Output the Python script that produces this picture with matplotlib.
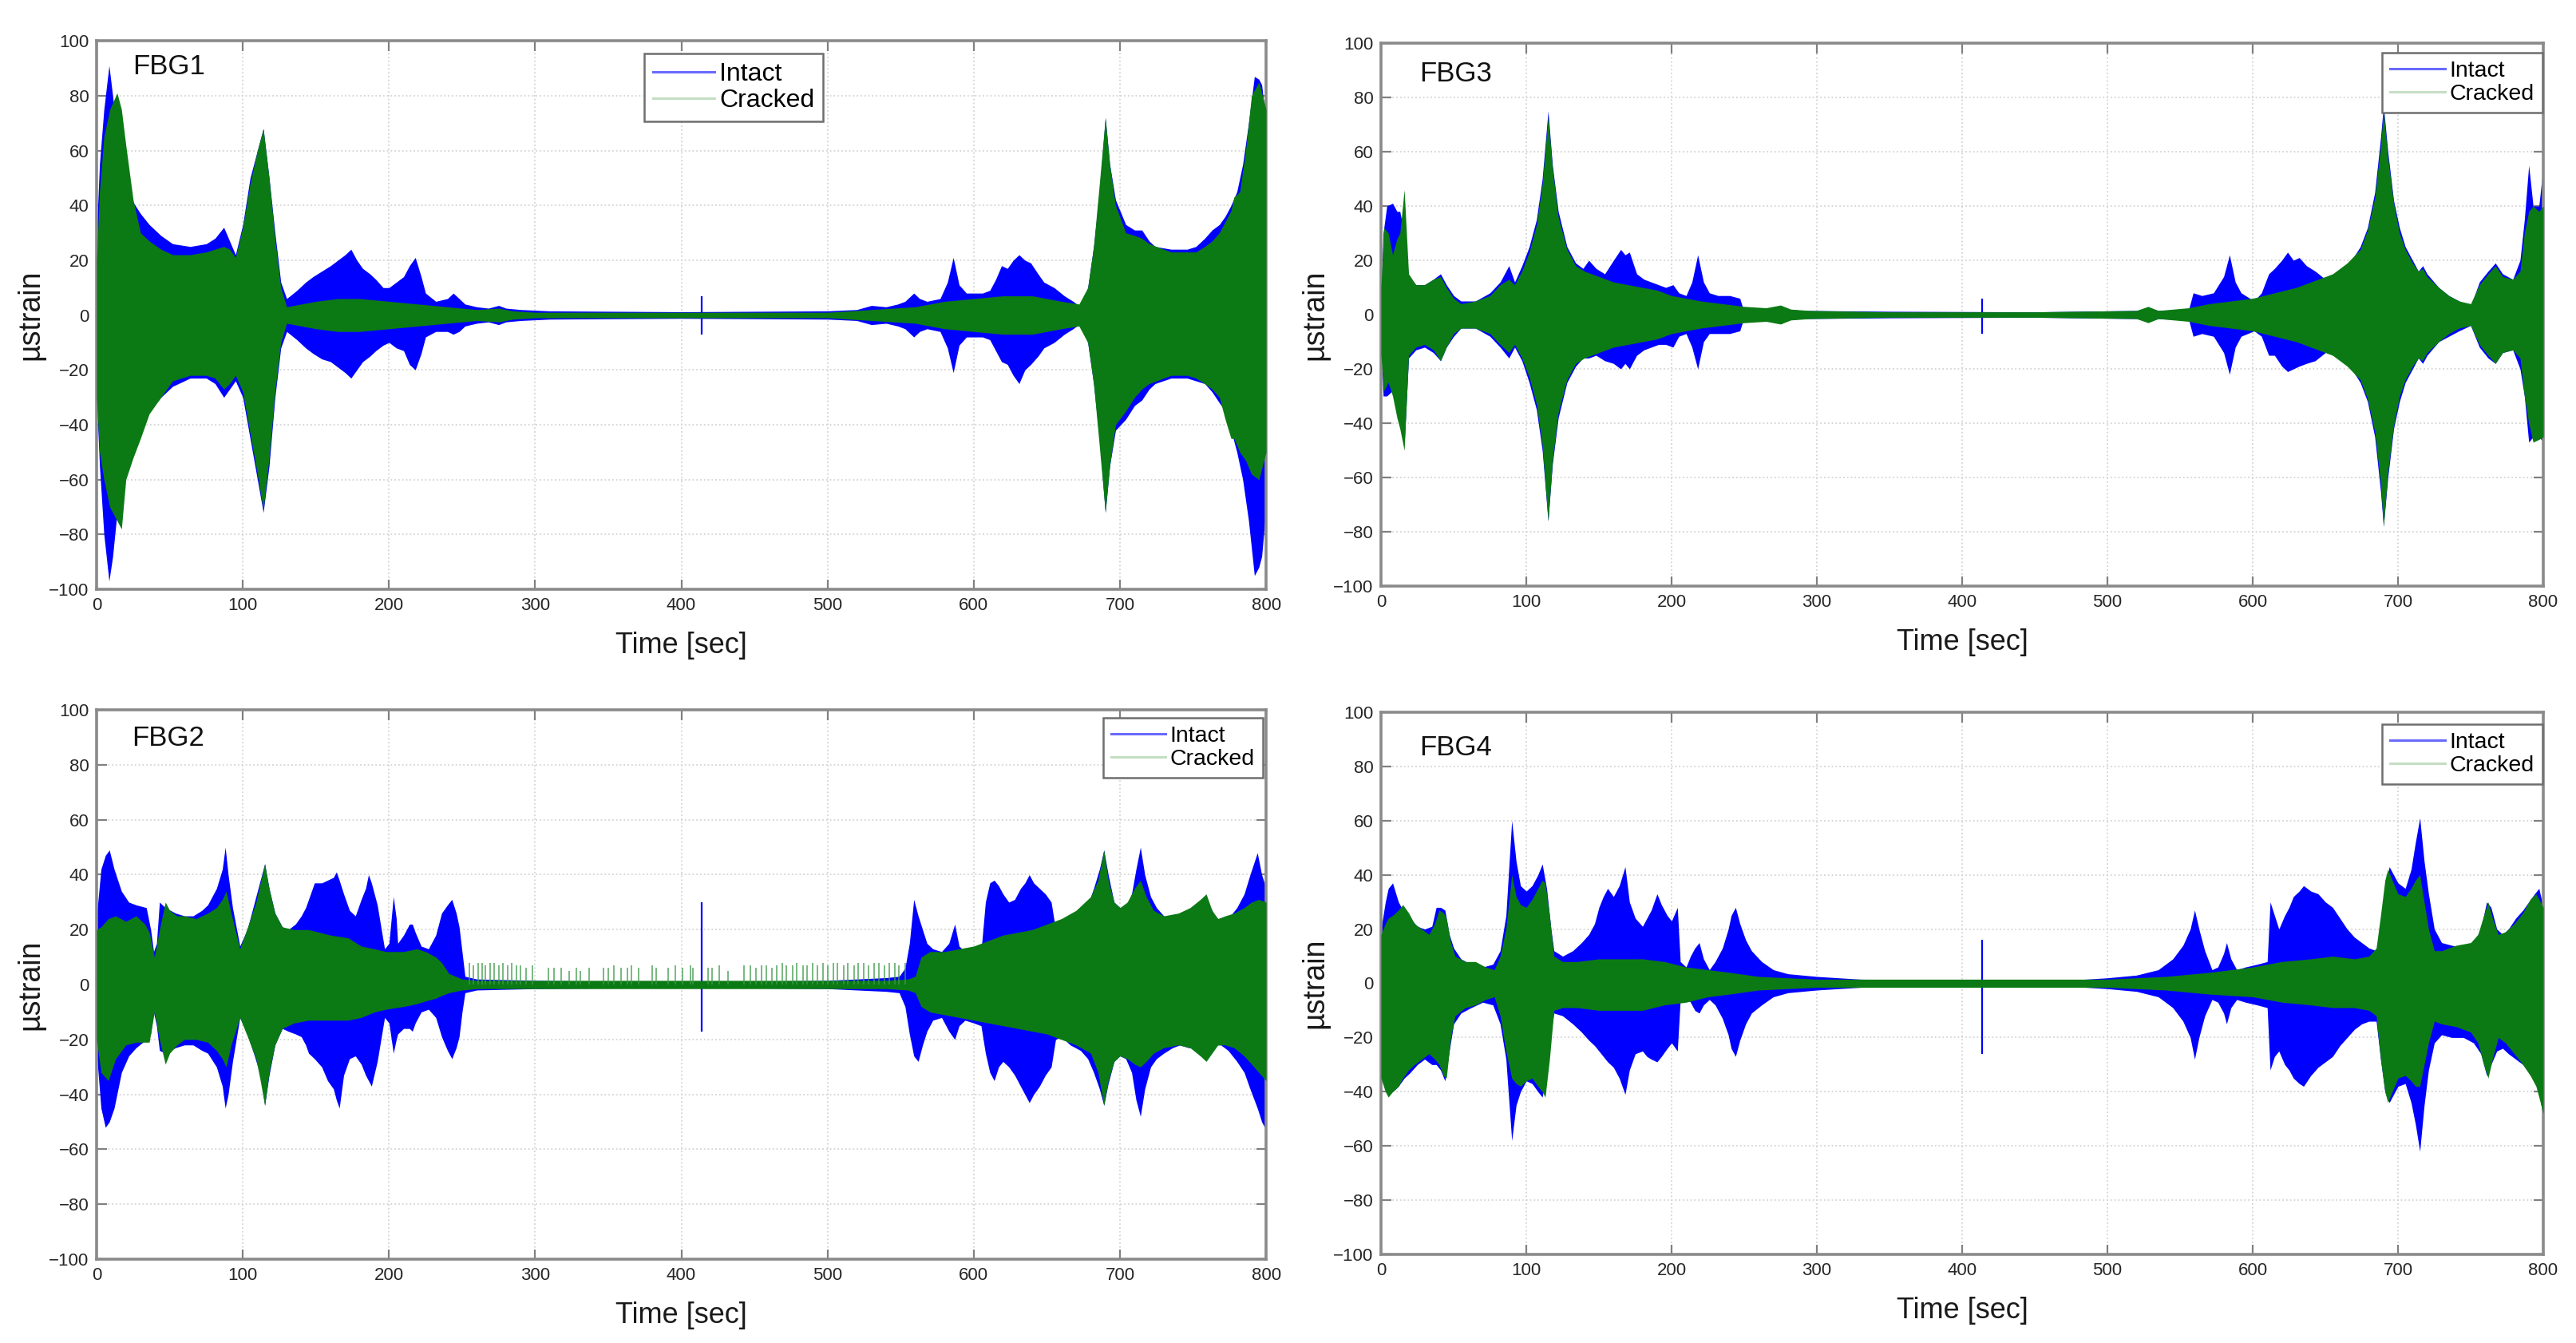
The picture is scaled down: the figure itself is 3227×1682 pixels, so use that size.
import numpy as np
import matplotlib
matplotlib.use("Agg")
import matplotlib.pyplot as plt
from matplotlib.lines import Line2D

plt.rcParams['font.family'] = ['Liberation Sans', 'DejaVu Sans']

# ---------------- envelope data (µstrain vs time [s]) ----------------
# FBG1 (top left)
fbg1_int_t = [0, 2, 5, 8.5, 11, 14, 19, 24, 30, 36, 44, 52, 64, 75, 81, 87, 91, 95, 100, 105, 110, 114, 118, 122, 126, 130,
              137, 143, 148, 154, 160, 165, 170, 174, 178, 182, 187, 191, 196, 200, 205, 210, 214, 218, 222, 225, 232, 240,
              244, 248, 252, 260, 268, 275, 280, 290, 310, 400, 500, 520, 530, 540, 548, 553, 559, 563, 568, 577, 582, 586,
              590, 595, 600, 606, 611, 615, 619, 623, 627, 631, 635, 639, 644, 648, 655, 662, 668, 673, 678, 682, 686, 690,
              693, 697, 704, 710, 715, 720, 724, 735, 746, 752, 758, 763, 768, 772, 776, 780, 784, 788, 792, 795, 797, 800]
fbg1_int_up = [30, 55, 75, 91, 80, 65, 55, 42, 37, 33, 29, 26, 25, 26, 28, 32, 27, 22, 33, 50, 60, 68, 50, 30, 12, 6,
               9, 12, 14, 16, 18, 20, 22, 24, 20, 17, 15, 13, 10, 10, 12, 14, 18, 21, 14, 8, 5, 6,
               8, 6, 4, 3, 2.5, 3.5, 2.5, 2, 1.5, 1.2, 1.5, 2, 3.5, 3, 4, 5, 8, 6, 5, 6, 12, 21,
               11, 8, 8, 8, 9, 13, 18, 17, 20, 22, 20, 19, 15, 12, 10, 7, 5, 3, 10, 25, 45, 72,
               55, 42, 33, 31, 31, 27, 25, 24, 24, 25, 28, 31, 33, 36, 40, 45, 55, 70, 87, 86, 84, 70]
fbg1_int_lo = [-30, -55, -80, -97, -88, -72, -60, -47, -40, -35, -30, -26, -23, -23, -25, -30, -27, -24, -30, -45, -60, -72, -55, -30, -12, -6,
               -9, -12, -14, -16, -17, -19, -21, -23, -20, -17, -15, -13, -11, -10, -12, -13, -18, -20, -14, -8, -6, -6,
               -7, -6, -4, -3, -2.5, -3.5, -2.5, -2, -1.5, -1.2, -1.5, -2, -3.5, -3, -4, -5, -8, -6, -5, -6, -12, -21,
               -11, -8, -8, -8, -9, -13, -17, -18, -22, -25, -20, -18, -15, -12, -10, -7, -5, -3, -10, -25, -45, -72,
               -55, -42, -38, -33, -31, -27, -25, -23, -23, -24, -25, -28, -32, -35, -42, -50, -60, -75, -95, -92, -88, -70]

fbg1_crk_t = [0, 2, 5, 9, 14, 17, 20, 25, 30, 36, 44, 52, 64, 75, 81, 87, 91, 95, 100, 105, 110, 114, 118, 122, 126, 130,
              140, 150, 165, 180, 200, 220, 240, 260, 275, 285, 300, 500, 530, 560, 580, 600, 620, 640, 660, 672, 678, 682,
              686, 690, 693, 697, 704, 710, 715, 720, 735, 746, 752, 758, 763, 768, 772, 776, 778, 782, 786, 790, 795, 800]
fbg1_crk_up = [20, 45, 65, 75, 81, 75, 62, 42, 30, 27, 24, 22, 22, 23, 24, 25, 24, 21, 32, 48, 60, 68, 50, 28, 10, 3,
               4, 5, 6, 6, 5, 4, 3, 2, 2.5, 1.5, 1, 1, 2, 3, 5, 6, 7, 7, 5, 4, 10, 25,
               48, 72, 55, 40, 30, 29, 28, 26, 23, 23, 23, 25, 27, 30, 34, 38, 43, 45, 60, 80, 85, 75]
fbg1_crk_lo = [-30, -50, -60, -70, -75, -78, -60, -52, -45, -36, -30, -24, -22, -22, -23, -27, -25, -22, -28, -43, -58, -71, -52, -28, -10, -3,
               -4, -5, -6, -6, -5, -4, -3, -2, -2.5, -1.5, -1, -1, -2, -3, -5, -6, -7, -7, -5, -4, -10, -25,
               -48, -72, -55, -40, -35, -30, -27, -25, -22, -22, -23, -25, -27, -30, -38, -45, -45, -50, -53, -58, -60, -50]

# FBG3 (top right)
fbg3_int_t = [0, 1.5, 4, 8, 11, 13, 16, 19, 24, 30, 36, 41, 45, 50, 55, 65, 75, 82, 88, 92, 97, 102, 107, 111, 115, 118,
              122, 128, 134, 139, 143, 148, 154, 160, 165, 168, 171, 176, 181, 186, 191, 196, 201, 205, 210, 214, 218, 222,
              226, 232, 240, 247, 249, 260, 270, 275, 280, 290, 350, 450, 520, 528, 535, 556, 559, 565, 573, 580, 584, 588,
              592, 601, 606, 611, 615, 620, 624, 628, 632, 637, 643, 650, 655, 662, 668, 674, 679, 684, 688, 690, 693, 697,
              701, 705, 710, 714, 717, 720, 728, 735, 742, 750, 756, 762, 767, 772, 779, 784, 787, 790, 793, 797, 800]
fbg3_int_up = [5, 30, 40, 41, 38, 38, 30, 14, 11, 11, 13, 15, 11, 7, 5, 5, 8, 12, 18, 12, 18, 25, 35, 50, 75, 55,
               38, 25, 19, 17, 20, 17, 15, 20, 24, 22, 23, 15, 13, 12, 11, 10, 11, 8, 7, 12, 22, 12,
               8, 7, 7, 6, 2.5, 2, 2, 3, 2, 1.5, 1.2, 1, 1.5, 2.5, 1.5, 2, 8, 7, 8, 14, 22, 12,
               8, 5, 8, 15, 17, 20, 23, 20, 21, 18, 16, 13, 12, 15, 20, 25, 32, 45, 65, 77, 60, 42,
               32, 25, 20, 16, 18, 15, 10, 7, 5, 3, 12, 16, 19, 15, 13, 20, 35, 55, 40, 40, 55]
fbg3_int_lo = [-10, -30, -30, -28, -35, -40, -48, -16, -13, -12, -14, -17, -12, -8, -5, -5, -8, -12, -16, -12, -17, -25, -35, -50, -76, -55,
               -38, -25, -19, -16, -16, -15, -17, -18, -20, -18, -20, -15, -13, -12, -11, -11, -12, -8, -7, -12, -20, -10,
               -7, -7, -7, -6, -2.5, -2, -2, -3, -2, -1.5, -1.2, -1, -1.5, -2.5, -1.5, -2, -8, -7, -8, -14, -22, -12,
               -8, -6, -8, -15, -15, -19, -21, -20, -19, -18, -17, -14, -13, -15, -20, -25, -32, -45, -65, -78, -60, -42,
               -32, -25, -20, -16, -18, -15, -10, -8, -6, -4, -12, -16, -18, -14, -13, -20, -30, -47, -45, -45, -47]

fbg3_crk_t = [0, 2, 5, 8, 11, 13, 16, 19, 24, 30, 36, 41, 45, 50, 55, 65, 75, 82, 88, 92, 97, 102, 107, 111, 115, 118,
              122, 128, 134, 140, 150, 160, 170, 180, 190, 200, 210, 220, 235, 250, 265, 275, 282, 295, 350, 450, 520, 528,
              535, 556, 570, 585, 600, 615, 630, 645, 655, 665, 674, 679, 684, 688, 690, 693, 697, 701, 705, 710, 714, 717,
              720, 728, 735, 742, 750, 756, 762, 767, 772, 779, 784, 787, 790, 793, 797, 800]
fbg3_crk_up = [10, 32, 30, 22, 28, 30, 46, 15, 11, 11, 13, 14, 10, 6, 4, 5, 7, 11, 13, 11, 16, 23, 33, 48, 73, 54,
               36, 24, 18, 16, 14, 12, 11, 10, 9, 7, 6, 5, 4, 3, 2.5, 3.5, 2, 1.5, 1, 1, 1.5, 3,
               1.5, 2.5, 4, 5, 6, 8, 10, 13, 15, 19, 24, 31, 43, 62, 75, 58, 41, 30, 24, 19, 16, 17,
               14, 10, 7, 5, 4, 11, 15, 18, 14, 13, 16, 30, 38, 40, 38, 40]
fbg3_crk_lo = [-15, -28, -25, -30, -38, -42, -50, -15, -12, -11, -13, -17, -12, -7, -5, -5, -7, -11, -14, -11, -16, -23, -33, -48, -76, -54,
               -36, -24, -18, -16, -14, -12, -11, -10, -9, -7, -6, -5, -4, -3, -2.5, -3.5, -2, -1.5, -1, -1, -1.5, -3,
               -1.5, -2.5, -4, -5, -6, -8, -10, -13, -15, -19, -24, -31, -43, -62, -78, -58, -41, -30, -24, -19, -16, -17,
               -14, -10, -7, -5, -4, -11, -15, -18, -14, -13, -16, -30, -40, -47, -46, -45]

# FBG2 (bottom left)
fbg2_int_t = [0, 3, 6, 8.7, 12, 17, 22, 27, 34, 37, 39, 41, 43, 47, 54, 60, 66, 72, 76, 82, 86, 88, 90, 93, 98, 103,
              108, 112, 115, 118, 122, 127, 131, 136, 140, 143, 145, 149, 154, 158, 162, 164, 166, 169, 173, 177, 181, 184,
              186, 188, 192, 197, 200, 203, 205, 206, 210, 214, 216, 218, 222, 227, 232, 236, 240, 243, 246, 248, 250, 252,
              260, 300, 400, 500, 540, 549, 553, 556, 559, 562, 565, 568, 572, 578, 583, 587, 590, 594, 600, 605, 608, 611,
              614, 617, 620, 624, 628, 632, 635, 638, 641, 645, 649, 653, 656, 660, 666, 673, 678, 682, 686, 689, 692, 696,
              700, 704, 708, 711, 714, 717, 721, 725, 730, 736, 741, 747, 752, 756, 759, 762, 765, 769, 774, 780, 785, 789,
              794, 797, 800]
fbg2_int_up = [25, 42, 47, 49, 42, 34, 30, 29, 28, 20, 12, 15, 30, 28, 26, 25, 25, 27, 29, 35, 42, 50, 40, 28, 14, 20,
               30, 38, 44, 35, 26, 21, 20, 22, 25, 28, 31, 37, 37, 38, 39, 41, 38, 33, 27, 25, 31, 35,
               40, 37, 29, 13, 15, 32, 24, 15, 18, 22, 22, 19, 14, 13, 18, 26, 29, 31, 26, 21, 12, 3,
               2, 1.5, 1, 1.5, 2.5, 3, 6, 15, 31, 25, 20, 15, 13, 12, 15, 22, 14, 12, 12, 12, 30, 37,
               38, 36, 33, 30, 31, 35, 37, 40, 37, 35, 33, 30, 20, 20, 22, 25, 29, 35, 42, 49, 40, 30,
               28, 28, 33, 42, 50, 40, 32, 28, 25, 23, 22, 24, 26, 28, 30, 28, 25, 23, 24, 28, 33, 40,
               48, 40, 35]
fbg2_int_lo = [-25, -45, -52, -50, -45, -32, -26, -23, -20, -18, -10, -15, -24, -25, -23, -22, -22, -24, -25, -30, -37, -45, -40, -28, -12, -18,
               -26, -33, -44, -33, -22, -16, -17, -18, -19, -22, -25, -27, -30, -35, -38, -42, -45, -33, -27, -26, -29, -33,
               -35, -37, -28, -12, -14, -25, -20, -18, -16, -16, -17, -14, -10, -9, -12, -19, -24, -27, -23, -19, -10, -3,
               -2, -1.5, -1, -1.5, -2.5, -3, -8, -18, -26, -28, -22, -17, -13, -12, -17, -20, -15, -13, -14, -15, -25, -32,
               -35, -30, -28, -30, -33, -37, -40, -43, -40, -37, -33, -30, -20, -19, -22, -24, -27, -32, -38, -44, -36, -28,
               -26, -27, -32, -42, -48, -38, -30, -27, -25, -23, -22, -23, -23, -24, -26, -24, -22, -22, -24, -28, -32, -38,
               -45, -50, -53]

fbg2_crk_t = [0, 3, 8, 13, 20, 27, 33, 36, 39.5, 43, 47, 50, 55, 60, 68, 76, 82, 86, 88.6, 92, 98, 104, 109, 112, 115, 118,
              122, 127, 135, 145, 160, 172, 181, 190, 198, 210, 219, 225, 232, 236, 241, 250, 260, 540, 555, 560, 564, 570,
              580, 590, 600, 610, 620, 630, 640, 650, 660, 670, 680, 685, 689, 692, 696, 700, 705, 710, 714, 718, 723, 730,
              740, 748, 755, 759, 763, 767, 772, 778, 785, 790, 795, 800]
fbg2_crk_up = [20, 21, 24, 25, 23, 25, 22, 19, 10, 20, 30, 27, 25, 25, 24, 26, 28, 31, 34, 26, 13, 22, 30, 37, 44, 35,
               26, 21, 20, 20, 18, 17, 14, 13, 12, 12, 13, 12, 10, 8, 4, 2, 1.5, 1.5, 2, 3, 10, 12,
               12, 13, 14, 16, 18, 19, 20, 22, 24, 27, 32, 38, 49, 38, 30, 28, 30, 35, 38, 32, 27, 25,
               26, 28, 31, 33, 27, 24, 25, 26, 28, 30, 31, 30]
fbg2_crk_lo = [-20, -32, -35, -27, -22, -21, -21, -21, -10, -20, -29, -25, -22, -20, -20, -21, -24, -27, -30, -22, -12, -20, -27, -35, -44, -32,
               -22, -16, -14, -13, -13, -13, -12, -10, -9, -8, -7, -6, -5, -4, -3, -2, -1.5, -1.5, -2, -3, -8, -10,
               -11, -12, -13, -14, -15, -16, -17, -18, -20, -22, -25, -32, -44, -35, -28, -26, -27, -29, -30, -28, -25, -23,
               -22, -23, -26, -28, -25, -22, -22, -23, -26, -29, -32, -35]

# sparse spikes of the cracked signal in the quiet middle part of FBG2
fbg2_spike_t = [255, 258, 261, 264, 266, 269, 272, 275, 278, 281, 284, 287, 290, 294, 298, 309, 313, 318, 323, 328, 331,
                337, 347, 350, 354, 359, 363, 366, 371, 380, 383, 391, 396, 401, 406, 408, 418, 421, 426, 432, 443, 447,
                451, 455, 458, 462, 465, 469, 472, 476, 479, 483, 486, 490, 493, 497, 500, 504, 507, 511, 514, 518, 521,
                525, 528, 532, 535, 539, 542, 546, 549, 553]
fbg2_spike_top = [8, 7, 8, 8, 7, 8, 8, 7, 8, 7, 8, 7, 7, 6, 7, 6, 6, 6, 5, 6, 5,
                  6, 6, 6, 7, 6, 6, 7, 6, 7, 6, 6, 7, 6, 7, 6, 6, 6, 7, 5, 7, 7,
                  6, 7, 7, 6, 7, 8, 7, 7, 8, 7, 7, 8, 7, 8, 7, 8, 8, 7, 8, 7, 8,
                  8, 7, 8, 8, 7, 8, 8, 7, 8]

# FBG4 (bottom right)
fbg4_int_t = [0, 3, 5, 8, 12, 16, 20, 25, 30, 35, 38, 41, 44, 47, 50, 55, 62, 70, 77, 82, 86, 90, 93, 96, 100, 104,
              108, 111, 114, 117, 119, 125, 132, 138, 143, 147, 150, 153, 156, 160, 164, 168, 171, 175, 180, 183, 186, 190,
              193, 197, 200, 204, 206, 210, 213, 216, 219, 222, 226, 230, 235, 239, 241, 244, 247, 251, 255, 262, 270, 280,
              300, 330, 400, 470, 500, 520, 535, 545, 552, 557, 560, 563, 567, 572, 576, 580, 582, 585, 589, 595, 603, 610,
              612, 615, 618, 622, 625, 628, 632, 635, 640, 645, 650, 655, 660, 665, 670, 675, 680, 685, 688, 691, 694, 697,
              700, 705, 709, 712, 715, 718, 721, 725, 730, 737, 745, 752, 757, 761, 764, 768, 772, 776, 781, 786, 790, 794,
              797, 800]
fbg4_int_up = [20, 30, 35, 37, 30, 26, 24, 21, 20, 21, 28, 28, 27, 18, 13, 9, 7, 6, 7, 12, 25, 60, 45, 36, 34, 36,
               40, 44, 35, 20, 12, 10, 12, 15, 18, 22, 28, 32, 35, 32, 36, 43, 30, 24, 21, 24, 27, 33,
               29, 25, 23, 28, 8, 6, 10, 13, 15, 9, 5, 8, 13, 20, 25, 28, 22, 16, 12, 8, 5, 3.5,
               2.5, 1.5, 1, 1, 2, 3, 5, 9, 14, 20, 27, 20, 12, 5, 6, 11, 15, 9, 5, 6, 7, 8,
               30, 25, 20, 25, 28, 32, 34, 36, 34, 33, 30, 28, 24, 20, 17, 15, 13, 12, 20, 35, 43, 40,
               37, 35, 42, 52, 61, 45, 33, 20, 15, 14, 13, 15, 20, 30, 28, 20, 18, 20, 24, 27, 30, 33,
               35, 28]
fbg4_int_lo = [-30, -38, -40, -40, -38, -35, -33, -30, -28, -30, -30, -32, -36, -25, -15, -11, -9, -7, -8, -15, -28, -58, -45, -40, -36, -37,
               -40, -42, -32, -18, -11, -12, -15, -18, -21, -23, -25, -27, -29, -31, -35, -41, -32, -26, -25, -27, -28, -29,
               -27, -24, -22, -25, -6, -5, -7, -10, -11, -8, -6, -8, -13, -19, -24, -27, -21, -15, -11, -8, -5, -3.5,
               -2.5, -1.5, -1, -1, -2, -3, -5, -9, -14, -20, -28, -20, -12, -6, -7, -11, -15, -9, -6, -7, -8, -9,
               -32, -27, -25, -30, -32, -35, -37, -38, -34, -31, -29, -27, -23, -20, -17, -15, -14, -14, -28, -40, -44, -41,
               -38, -37, -44, -52, -62, -45, -32, -22, -19, -20, -20, -22, -26, -34, -30, -25, -24, -26, -28, -30, -33, -36,
               -40, -50]

fbg4_crk_t = [0, 3, 5, 8, 12, 15, 19, 23, 28, 33, 37, 40, 43, 45, 48, 51, 58, 65, 72, 78, 82, 86, 90, 93, 96, 100,
              104, 108, 111, 113, 116, 119, 125, 135, 150, 165, 180, 195, 210, 225, 240, 260, 300, 500, 540, 570, 600, 620,
              640, 655, 670, 680, 685, 688, 691, 693, 696, 700, 705, 709, 712, 715, 718, 721, 725, 730, 740, 750, 755, 759,
              762, 765, 769, 774, 780, 786, 791, 795, 798, 800]
fbg4_crk_up = [18, 22, 24, 25, 27, 29, 26, 22, 20, 18, 22, 27, 26, 24, 15, 10, 8, 8, 6, 5, 10, 20, 40, 32, 29, 28,
               31, 35, 38, 37, 25, 10, 8, 8, 9, 9, 9, 8, 6, 5, 4, 2.5, 1.5, 1.5, 2.5, 4, 6, 8,
               9, 10, 9, 10, 13, 25, 38, 42, 38, 33, 32, 35, 38, 40, 30, 20, 12, 12, 14, 15, 18, 25,
               30, 24, 18, 19, 22, 26, 31, 33, 30, 28]
fbg4_crk_lo = [-35, -40, -42, -40, -38, -35, -32, -30, -28, -26, -28, -30, -34, -35, -20, -12, -9, -8, -6, -5, -12, -25, -35, -37, -38, -36,
               -35, -38, -40, -42, -28, -10, -9, -9, -10, -10, -10, -8, -7, -5, -4, -2.5, -1.5, -1.5, -2.5, -4, -5, -7,
               -8, -9, -9, -10, -12, -28, -40, -44, -40, -35, -34, -36, -38, -38, -30, -22, -14, -15, -16, -18, -22, -30,
               -35, -28, -20, -22, -26, -30, -34, -38, -44, -48]

# single short burst of the intact signal at t ~ 414 s: (time, top, bottom)
burst_fbg1 = (414, 7, -7)
burst_fbg3 = (414, 6, -7)
burst_fbg2 = (414, 30, -17)
burst_fbg4 = (414, 16, -26)

panel_names = ['FBG1', 'FBG3', 'FBG2', 'FBG4']
x_ticks = [0, 100, 200, 300, 400, 500, 600, 700, 800]
y_ticks = [-100, -80, -60, -40, -20, 0, 20, 40, 60, 80, 100]

BLUE = '#0000ff'
GREEN = '#0b7a14'

fig = plt.figure(figsize=(32.27, 16.82), dpi=100)

rects = [
    [0.0375, 0.5612, 0.4540, 0.4084],
    [0.5361, 0.5636, 0.4512, 0.4043],
    [0.0375, 0.0624, 0.4540, 0.4090],
    [0.5361, 0.0660, 0.4512, 0.4037],
]

panels = [
    (fbg1_int_t, fbg1_int_up, fbg1_int_lo, fbg1_crk_t, fbg1_crk_up, fbg1_crk_lo, burst_fbg1),
    (fbg3_int_t, fbg3_int_up, fbg3_int_lo, fbg3_crk_t, fbg3_crk_up, fbg3_crk_lo, burst_fbg3),
    (fbg2_int_t, fbg2_int_up, fbg2_int_lo, fbg2_crk_t, fbg2_crk_up, fbg2_crk_lo, burst_fbg2),
    (fbg4_int_t, fbg4_int_up, fbg4_int_lo, fbg4_crk_t, fbg4_crk_up, fbg4_crk_lo, burst_fbg4),
]

# legend anchor (axes fraction), location and font size per panel
leg_opts = [
    ((0.468, 0.977), 'upper left', 23),
    ((0.999, 0.982), 'upper right', 20.5),
    ((0.997, 0.986), 'upper right', 20.5),
    ((0.999, 0.978), 'upper right', 20.5),
]
name_pos = [(0.031, 0.953), (0.033, 0.943), (0.030, 0.949), (0.033, 0.935)]

for i, (rect, data) in enumerate(zip(rects, panels)):
    ti, ui, li, tc, uc, lc, burst = data
    ax = fig.add_axes(rect)

    ax.fill_between(ti, li, ui, color=BLUE, lw=0, zorder=2)
    ax.vlines(burst[0], burst[2], burst[1], color=BLUE, lw=1.6, zorder=2)
    ax.fill_between(tc, lc, uc, color=GREEN, lw=0, zorder=3)
    if i == 2:
        ax.vlines(fbg2_spike_t, 0, fbg2_spike_top, color='#3f9a4a', lw=1.4, alpha=0.7, zorder=3)

    ax.set_xlim(0, 800)
    ax.set_ylim(-100, 100)
    ax.set_xticks(x_ticks)
    ax.set_yticks(y_ticks)
    ax.grid(True, color='#d4d4d4', linestyle=':', linewidth=1.3, zorder=0)
    ax.set_axisbelow(True)
    ax.tick_params(direction='in', length=9, width=1.6, color='#808080',
                   labelsize=16, labelcolor='#262626', pad=7, top=True, right=True)
    for sp in ax.spines.values():
        sp.set_color('#8a8a8a')
        sp.set_linewidth(2.6)

    ax.set_xlabel('Time [sec]', fontsize=26, labelpad=16, color='#1a1a1a')
    ax.set_ylabel('µstrain', fontsize=27, labelpad=3, color='#1a1a1a')

    ax.text(name_pos[i][0], name_pos[i][1], panel_names[i], transform=ax.transAxes,
            fontsize=25, ha='left', va='center', color='#111111', zorder=5)

    anchor, loc, fs = leg_opts[i]
    handles = [Line2D([], [], color='#6a6aff', lw=2.2), Line2D([], [], color='#c4dec4', lw=2.2)]
    leg = ax.legend(handles, ['Intact', 'Cracked'], loc=loc, bbox_to_anchor=anchor,
                    fontsize=fs, frameon=True, fancybox=False, framealpha=1,
                    edgecolor='#6e6e6e', handlelength=2.4, handletextpad=0.2,
                    borderpad=0.35, labelspacing=0.1, borderaxespad=0)
    leg.get_frame().set_linewidth(1.8)
    leg.set_zorder(6)

fig.savefig('out.png', dpi=100, facecolor='white')
